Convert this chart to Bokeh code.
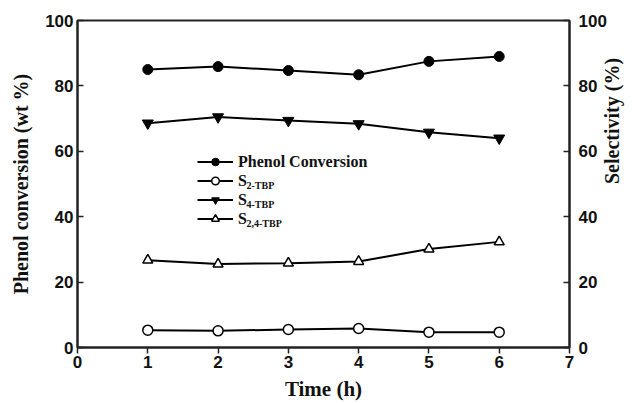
import math
from bokeh.plotting import figure
from bokeh.models import Range1d, LinearAxis, Legend, LegendItem, Label, FixedTicker
from bokeh.embed import file_html
from bokeh.resources import INLINE

# ---- data ----
time_h = [1, 2, 3, 4, 5, 6]
phenol_conv = [85.0, 85.9, 84.7, 83.4, 87.5, 89.0]
s_2tbp = [5.3, 5.1, 5.5, 5.8, 4.7, 4.7]
s_4tbp = [68.6, 70.5, 69.4, 68.4, 65.8, 64.0]
s_24tbp = [26.7, 25.5, 25.8, 26.3, 30.1, 32.3]
x_ticks = [0, 1, 2, 3, 4, 5, 6, 7]
y_ticks = [0, 20, 40, 60, 80, 100]

W, H = 636, 403
ML, MR, MT, MB = 77, 63, 20, 56
FRAME_W = W - ML - MR
FRAME_H = H - MT - MB

p = figure(width=W, height=H, output_backend="svg", toolbar_location=None,
           x_range=Range1d(0, 7), y_range=Range1d(0, 100),
           min_border_left=ML, min_border_right=MR, min_border_top=MT, min_border_bottom=MB,
           x_axis_location=None, y_axis_location=None)
p.extra_y_ranges = {"sel": Range1d(0, 100)}
p.grid.visible = False
p.outline_line_color = "#222222"
p.outline_line_width = 2
p.background_fill_color = "white"
p.border_fill_color = "white"

TICK_FONT = "Liberation Sans"
TITLE_FONT = "Liberation Serif"
AXC = "#222222"

def style_axis(ax, tin, tout, standoff, lstandoff):
    ax.axis_line_color = AXC
    ax.axis_line_width = 2
    ax.major_tick_line_color = AXC
    ax.major_tick_line_width = 1.5
    ax.major_tick_in = tin
    ax.major_tick_out = tout
    ax.minor_tick_line_color = None
    ax.major_label_text_font = TICK_FONT
    ax.major_label_text_font_style = "bold"
    ax.major_label_text_font_size = "17px"
    ax.major_label_text_color = "#111111"
    ax.major_label_standoff = standoff
    ax.axis_label_text_font = TITLE_FONT
    ax.axis_label_text_font_style = "bold"
    ax.axis_label_text_font_size = "20px"
    ax.axis_label_text_color = "#111111"
    ax.axis_label_standoff = lstandoff

xax = LinearAxis(axis_label="Time (h)", ticker=FixedTicker(ticks=x_ticks))
style_axis(xax, 0, 6, 2, 6)
xax.axis_label_text_font_size = "21px"
p.add_layout(xax, "below")

yax = LinearAxis(axis_label="Phenol conversion (wt %)", ticker=FixedTicker(ticks=y_ticks))
style_axis(yax, 6, 0, 4, 10)
p.add_layout(yax, "left")

rax = LinearAxis(y_range_name="sel", ticker=FixedTicker(ticks=y_ticks))
style_axis(rax, 6, 0, 9, 4)
p.add_layout(rax, "right")

# title-only axis for the right side (reads bottom-to-top, a bit above centre)
rtitle = LinearAxis(axis_label="Selectivity (%)", y_range_name="sel",
                    ticker=FixedTicker(ticks=[]), bounds=(0, 83))
style_axis(rtitle, 0, 0, 0, 2)
rtitle.axis_line_color = None
rtitle.major_tick_line_color = None
rtitle.axis_label_orientation = math.pi / 2
p.add_layout(rtitle, "right")

LW = 2
l1 = p.line(time_h, phenol_conv, line_color="black", line_width=LW)
m1 = p.scatter(time_h, phenol_conv, marker="circle", size=10, fill_color="black", line_color="black")
l2 = p.line(time_h, s_2tbp, line_color="black", line_width=LW, y_range_name="sel")
m2 = p.scatter(time_h, s_2tbp, marker="circle", size=10, fill_color="white", line_color="black", line_width=1.5, y_range_name="sel")
l3 = p.line(time_h, s_4tbp, line_color="black", line_width=LW, y_range_name="sel")
m3 = p.scatter(time_h, s_4tbp, marker="inverted_triangle", size=11, fill_color="black", line_color="black", y_range_name="sel")
l4 = p.line(time_h, s_24tbp, line_color="black", line_width=LW, y_range_name="sel")
m4 = p.scatter(time_h, s_24tbp, marker="triangle", size=10, fill_color="white", line_color="black", line_width=1.5, y_range_name="sel")

# ---- legend ----
LEG_X = 120            # from frame left
ROW = 19
LEG_TOP = 152 - MT     # from frame top (screen)
n_items = 4
leg_bottom = FRAME_H - (LEG_TOP + n_items * ROW)
legend = Legend(items=[
    LegendItem(label="Phenol Conversion", renderers=[l1, m1]),
    LegendItem(label="S", renderers=[l2, m2]),
    LegendItem(label="S", renderers=[l3, m3]),
    LegendItem(label="S", renderers=[l4, m4]),
], location=(LEG_X, leg_bottom))
legend.border_line_color = None
legend.background_fill_alpha = 0
legend.padding = 0
legend.margin = 0
legend.spacing = 0
legend.glyph_width = 36
legend.glyph_height = ROW
legend.label_height = ROW
legend.label_standoff = 5
legend.label_text_font = TITLE_FONT
legend.label_text_font_style = "bold"
legend.label_text_font_size = "16px"
legend.label_text_color = "#111111"
p.add_layout(legend, "center")

subs = ["2-TBP", "4-TBP", "2,4-TBP"]
for i, s in enumerate(subs):
    row_center_from_top = LEG_TOP + (i + 1) * ROW + ROW / 2
    y_screen = FRAME_H - row_center_from_top - 4
    lab = Label(x=LEG_X + 36 + 5 + 8, y=y_screen, x_units="screen", y_units="screen",
                text=s, text_font=TITLE_FONT, text_font_style="bold", text_font_size="10px",
                text_baseline="middle", text_color="#111111")
    p.add_layout(lab)

open("out.html", "w").write(file_html(p, INLINE))
